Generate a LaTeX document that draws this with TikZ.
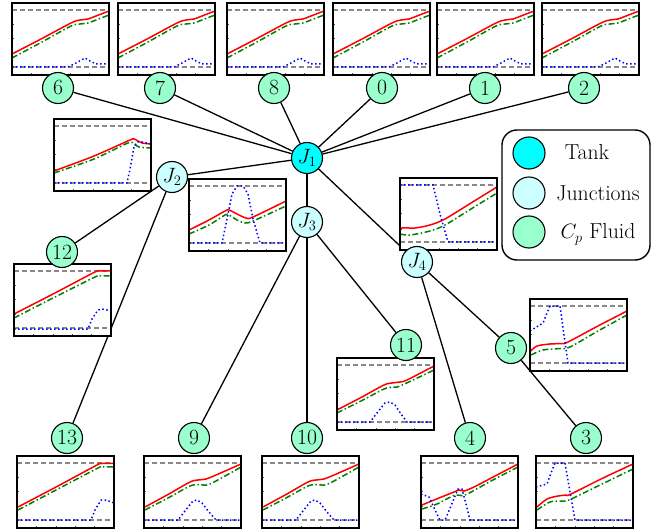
\documentclass[tikz,border=0pt]{standalone}
\usetikzlibrary{backgrounds}
\definecolor{tankc}{RGB}{0,255,255}
\definecolor{juncc}{RGB}{204,255,255}
\definecolor{fluidc}{RGB}{153,255,204}
\definecolor{dgreen}{RGB}{0,128,0}
\definecolor{dashgray}{RGB}{136,136,136}
\pgfdeclarelayer{edgelayer}
\pgfdeclarelayer{boxlayer}
\pgfsetlayers{edgelayer,boxlayer,main}
\tikzset{
  basenode/.style={circle,draw=black,line width=1.1pt,minimum size=31pt,inner sep=0pt,font=\fontsize{21.7}{26}\selectfont},
  tanknode/.style={basenode,fill=tankc},
  juncnode/.style={basenode,fill=juncc},
  fluidnode/.style={basenode,fill=fluidc},
  conn/.style={line width=1.3pt,black},
  framebox/.style={line width=1.4pt,black},
  tickmark/.style={line width=0.4pt,black!70},
  graydash/.style={line width=1.5pt,dashgray,dash pattern=on 5pt off 3pt},
  redc/.style={line width=1.5pt,red},
  greenc/.style={line width=1.5pt,dgreen,dash pattern=on 6pt off 2.5pt on 1.5pt off 2.5pt},
  bluec/.style={line width=1.5pt,blue,dash pattern=on 1.5pt off 2.5pt},
  legtext/.style={font=\fontsize{21.7}{26}\selectfont,anchor=base,inner sep=0pt}
}
\newcommand{\pbox}[5]{%
\begin{scope}[shift={(#1,#2)}]
\fill[white] (0,0) rectangle (97,72);
\begin{scope}
\clip (0,0) rectangle (97,72);
\foreach \ty in {7,21.25,35.5,49.75,64} \draw[tickmark] (0,\ty) -- (2,\ty);
\foreach \tx in {19.4,38.8,58.2,77.6} \draw[tickmark] (\tx,72) -- (\tx,70);
\draw[graydash] (0,7) -- (97,7);
\draw[graydash] (0,64) -- (97,64);
\draw[redc] plot[smooth,tension=0.5] coordinates {#3};
\draw[greenc] plot[smooth,tension=0.5] coordinates {#4};
\draw[bluec] plot coordinates {#5};
\end{scope}
\draw[framebox] (0,0) rectangle (97,72);
\end{scope}}
\begin{document}
\begin{tikzpicture}[x=1pt,y=-1pt]
\useasboundingbox (0,0) rectangle (662,532);
% nodes
\node[tanknode] (J1) at (307,158) {$J_1$};
\node[juncnode] (J2) at (172,177) {$J_2$};
\node[juncnode] (J3) at (307,222) {$J_3$};
\node[juncnode] (J4) at (417,262) {$J_4$};
\node[fluidnode] (n6) at (58,88) {6};
\node[fluidnode] (n7) at (160,88) {7};
\node[fluidnode] (n8) at (274,88) {8};
\node[fluidnode] (n0) at (382,88) {0};
\node[fluidnode] (n1) at (485,88) {1};
\node[fluidnode] (n2) at (584,88) {2};
\node[fluidnode] (n12) at (62,252) {12};
\node[fluidnode] (n11) at (406,345) {11};
\node[fluidnode] (n5) at (511,348) {5};
\node[fluidnode] (n13) at (67,438) {13};
\node[fluidnode] (n9) at (194,438) {9};
\node[fluidnode] (n10) at (307,438) {10};
\node[fluidnode] (n4) at (470,438) {4};
\node[fluidnode] (n3) at (586,438) {3};
% edges
\begin{pgfonlayer}{edgelayer}
\foreach \t in {n6,n7,n8,n0,n1,n2,J2,J3,J4}
  \draw[conn] (J1) -- (\t);
\draw[conn] (J2) -- (n12);
\draw[conn] (J2) -- (n13);
\draw[conn] (J3) -- (n9);
\draw[conn] (J3) -- (n10);
\draw[conn] (J3) -- (n11);
\draw[conn] (J4) -- (n4);
\draw[conn] (J4) -- (n5);
\draw[conn] (n5) -- (n3);
\end{pgfonlayer}
% plot boxes
\begin{pgfonlayer}{boxlayer}
\foreach \bx in {12,118,227,333,437,542}{
\pbox{\bx}{3}{(0,51) (30,35.5) (59,20) (68,17) (76,16) (84,13) (97,8)}
{(0,55) (30,39) (59,23) (68,21) (76,20) (84,17) (97,12)}
{(0,64) (56,64) (64,60) (73,55) (78,58) (84,61) (97,61)}
}
% J2
\pbox{54}{119}{(0,52) (40,37) (76,21) (80,20) (84,22) (88,24) (97,25)}
{(0,54) (40,40) (74,24) (80,25) (85,28) (97,29)}
{(0,64) (73,64) (76,50) (80,28) (83,23) (88,23) (97,25)}
% J3
\pbox{189}{179}{(0,51) (20,41) (36,32) (40,31) (48,35) (57,39) (64,38) (97,22)}
{(0,55) (20,46) (36,36) (40,36) (48,41) (56,44) (64,42) (97,27)}
{(0,64) (33,64) (38,40) (43,15) (48,7) (54,7) (59,15) (64,40) (71,64) (97,64)}
% 12
\pbox{14}{264}{(0,50) (40,29.5) (80,8.5) (86,7) (97,7)}
{(0,54) (40,33.5) (81,13) (85,12) (97,12)}
{(0,65) (74,65) (78,55) (84,46) (88,45) (93,46) (97,47)}
% J4
\pbox{400}{178}{(0,54) (2,50) (15,50) (30,47) (45,41) (71,25) (97,9)}
{(0,56) (10,57) (30,53) (45,47) (71,31) (97,15)}
{(0,7) (33,7) (40,36) (48,64) (97,64)}
% 5
\pbox{530}{299}{(1,52) (7,47) (20,45) (32,44.5) (38,43) (67,27.5) (97,12)}
{(1,56) (13,51) (30,49.5) (40,48) (68,32) (97,16)}
{(0,32) (13,24) (17,14) (20,7) (30,7) (34,36) (38,64) (97,64)}
% 11
\pbox{337}{358}{(0,52) (24,39.5) (47,27) (55,25) (63,24) (70,22) (97,8)}
{(0,55) (24,43) (47,31) (56,29) (63,28) (97,12)}
{(0,64) (33,64) (40,55) (48,45) (53,44) (58,47) (64,56) (70,64) (97,64)}
% 13
\pbox{17}{456}{(1,51) (40,30.5) (80,9) (84,7.5) (97,7.5)}
{(1,54) (40,33.5) (81,12) (85,11) (97,11)}
{(0,64) (74,64) (78,54) (84,44) (89,44) (97,47)}
% 9 and 10
\foreach \bx in {144,262}{
\pbox{\bx}{456}{(1,51) (24,38.5) (46,26) (54,24) (62,23) (72,19) (97,8)}
{(1,54) (24,42) (46,30) (56,28.5) (66,28) (97,11)}
{(0,64) (34,64) (41,55) (49,45) (53,44) (58,47) (65,56) (72,64) (97,64)}
}
% 4
\pbox{421}{456}{(1,49) (13,44) (33,36) (38,34) (43,35) (53,31) (75,19.5) (97,8)}
{(1,53) (16,48) (34,39) (44,39) (70,25) (97,11)}
{(0,38) (8,41) (14,54) (19,64) (24,64) (30,50) (37,33) (41,33) (45,48) (49,64) (97,64)}
% 3
\pbox{536}{456}{(1,51) (11,43) (22,40) (30,39) (34,38.5) (65,23) (97,8)}
{(1,54) (14,46) (25,45) (33,44) (65,28.5) (97,13)}
{(0,31) (11,28) (15,17) (19,7) (29,7) (34,36) (39,64) (97,64)}
\end{pgfonlayer}
% legend
\draw[line width=1.4pt,rounded corners=15pt,fill=white] (502,130) rectangle (650,260);
\node[tanknode,minimum size=32pt] (lt) at (529,153) {};
\node[juncnode,minimum size=32pt] (lj) at (529,193) {};
\node[fluidnode,minimum size=32pt] (lf) at (529,232) {};
\node[legtext] (ltt) at (587,160) {Tank};
\node[legtext] (ljt) at (598,200.5) {Junctions};
\node[legtext] (lft) at (598,239) {$C_p$ Fluid};
\end{tikzpicture}
\end{document}
